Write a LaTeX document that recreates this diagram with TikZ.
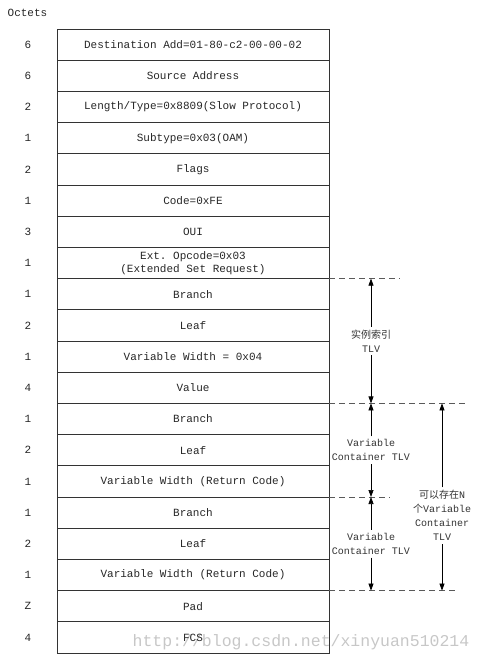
\documentclass[tikz,border=0pt]{standalone}
\usepackage{fontspec}
\setmonofont{Liberation Mono}
\newfontfamily\cjk{Noto Sans CJK SC}
\usetikzlibrary{positioning,arrows.meta,calc}

\begin{document}
\begin{tikzpicture}[
        x=1pt, y=1pt,
        font=\ttfamily\fontsize{11}{13}\selectfont,
        fld/.style={
            draw=black!80,
            line width=0.8pt,
            minimum width=272pt,
            minimum height=31.2pt,
            inner sep=0pt,
            outer sep=0pt,
            align=center,
            text=black!85
        },
        oct/.style={
            text=black!85
        },
        lbl/.style={
            font=\ttfamily\fontsize{10}{14}\selectfont,
            align=center,
            text=black!80,
            inner sep=3pt
        },
        guide/.style={
            dash pattern=on 6pt off 4pt,
            line width=0.9pt,
            draw=black!65
        },
        arr/.style={
            -{Triangle[length=7pt,width=5pt]},
            line width=0.7pt,
            draw=black
        },
        wmark/.style={
            font=\ttfamily\fontsize{16.5}{18}\selectfont,
            text=black,
            opacity=0.22
        }
    ]
    \useasboundingbox (0,0) rectangle (482,-663);

    % =========================
    % Frame fields
    % =========================
    \node[oct] (hdr) at (27.5,-13) {Octets};

    \node[fld] (f1) at (193,-44.6) {Destination Add=01-80-c2-00-00-02};
    \node[fld, below=0pt of f1] (f2) {Source Address};
    \node[fld, below=0pt of f2] (f3) {Length/Type=0x8809(Slow Protocol)};
    \node[fld, below=0pt of f3] (f4) {Subtype=0x03(OAM)};
    \node[fld, below=0pt of f4] (f5) {Flags};
    \node[fld, below=0pt of f5] (f6) {Code=0xFE};
    \node[fld, below=0pt of f6] (f7) {OUI};
    \node[fld, below=0pt of f7] (f8) {Ext. Opcode=0x03\\(Extended Set Request)};
    \node[fld, below=0pt of f8] (f9) {Branch};
    \node[fld, below=0pt of f9] (f10) {Leaf};
    \node[fld, below=0pt of f10] (f11) {Variable Width = 0x04};
    \node[fld, below=0pt of f11] (f12) {Value};
    \node[fld, below=0pt of f12] (f13) {Branch};
    \node[fld, below=0pt of f13] (f14) {Leaf};
    \node[fld, below=0pt of f14] (f15) {Variable Width (Return Code)};
    \node[fld, below=0pt of f15] (f16) {Branch};
    \node[fld, below=0pt of f16] (f17) {Leaf};
    \node[fld, below=0pt of f17] (f18) {Variable Width (Return Code)};
    \node[fld, below=0pt of f18] (f19) {Pad};
    \node[fld, below=0pt of f19] (f20) {FCS};

    % =========================
    % Octet counts
    % =========================
    \node[oct] (o1) at ($(f1.west)+(-29,0)$) {6};
    \node[oct] (o2) at ($(f2.west)+(-29,0)$) {6};
    \node[oct] (o3) at ($(f3.west)+(-29,0)$) {2};
    \node[oct] (o4) at ($(f4.west)+(-29,0)$) {1};
    \node[oct] (o5) at ($(f5.west)+(-29,0)$) {2};
    \node[oct] (o6) at ($(f6.west)+(-29,0)$) {1};
    \node[oct] (o7) at ($(f7.west)+(-29,0)$) {3};
    \node[oct] (o8) at ($(f8.west)+(-29,0)$) {1};
    \node[oct] (o9) at ($(f9.west)+(-29,0)$) {1};
    \node[oct] (o10) at ($(f10.west)+(-29,0)$) {2};
    \node[oct] (o11) at ($(f11.west)+(-29,0)$) {1};
    \node[oct] (o12) at ($(f12.west)+(-29,0)$) {4};
    \node[oct] (o13) at ($(f13.west)+(-29,0)$) {1};
    \node[oct] (o14) at ($(f14.west)+(-29,0)$) {2};
    \node[oct] (o15) at ($(f15.west)+(-29,0)$) {1};
    \node[oct] (o16) at ($(f16.west)+(-29,0)$) {1};
    \node[oct] (o17) at ($(f17.west)+(-29,0)$) {2};
    \node[oct] (o18) at ($(f18.west)+(-29,0)$) {1};
    \node[oct] (o19) at ($(f19.west)+(-29,0)$) {Z};
    \node[oct] (o20) at ($(f20.west)+(-29,0)$) {4};

    % =========================
    % TLV guides
    % =========================
    \coordinate (g1) at ($(f8.south east)+(71,0)$);
    \coordinate (g2) at ($(f12.south east)+(136,0)$);
    \coordinate (g3) at ($(f15.south east)+(61,0)$);
    \coordinate (g4) at ($(f18.south east)+(126,0)$);
    \draw[guide] (f8.south east) -- (g1);
    \draw[guide] (f12.south east) -- (g2);
    \draw[guide] (f15.south east) -- (g3);
    \draw[guide] (f18.south east) -- (g4);

    \coordinate (a1) at ($(f8.south east)+(42,0)$);
    \coordinate (a2) at ($(f12.south east)+(42,0)$);
    \coordinate (a3) at ($(f15.south east)+(42,0)$);
    \coordinate (a4) at ($(f18.south east)+(42,0)$);
    \coordinate (b1) at ($(f12.south east)+(113,0)$);
    \coordinate (b2) at ($(f18.south east)+(113,0)$);

    \node[lbl] (t1) at ($(a1)!0.5!(a2)$) {{\cjk 实例索引}\\TLV};
    \node[lbl] (t2) at ($(a2)!0.5!(a3)$) {Variable\\Container TLV};
    \node[lbl] (t3) at ($(a3)!0.5!(a4)$) {Variable\\Container TLV};
    \node[lbl] (t4) at ($(b1)!0.6!(b2)$) {{\cjk 可以存在}N\\{\cjk 个}Variable\\Container\\TLV};

    \draw[arr] (t1) -- (a1);
    \draw[arr] (t1) -- (a2);
    \draw[arr] (t2) -- (a2);
    \draw[arr] (t2) -- (a3);
    \draw[arr] (t3) -- (a3);
    \draw[arr] (t3) -- (a4);
    \draw[arr] (t4) -- (b1);
    \draw[arr] (t4) -- (b2);

    \node[wmark] (wm) at (301,-642) {http://blog.csdn.net/xinyuan510214};

\end{tikzpicture}
\end{document}
